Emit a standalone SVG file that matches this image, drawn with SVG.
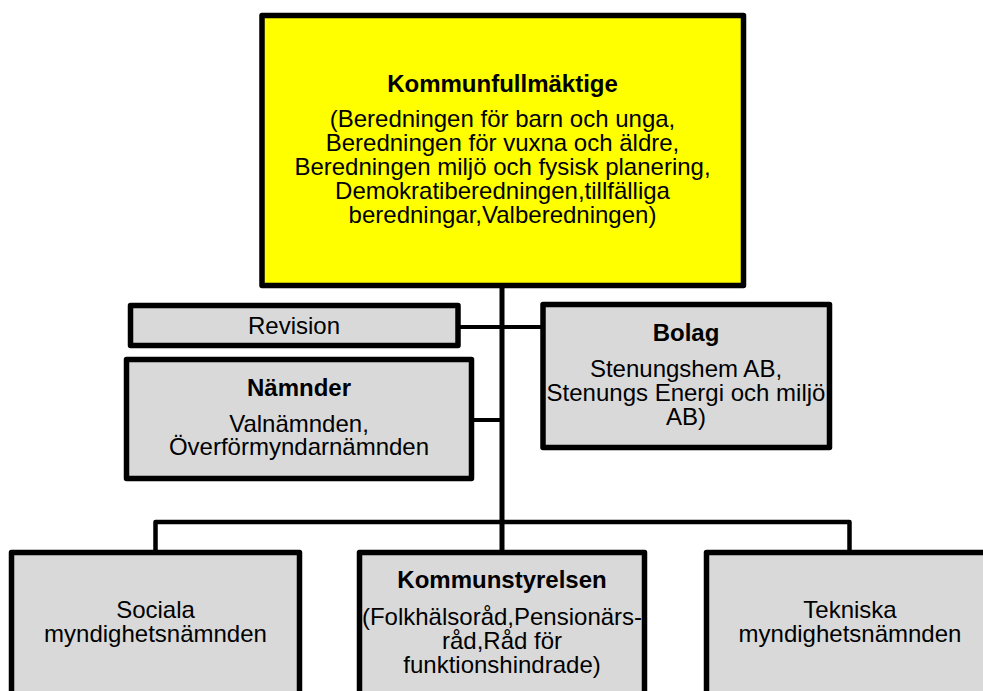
<svg xmlns="http://www.w3.org/2000/svg" width="983" height="691" viewBox="0 0 983 691">
<style>
.box{fill:#d9d9d9;stroke:#000;stroke-width:5.5;stroke-linejoin:round}
.yel{fill:#ffff00;stroke:#000;stroke-width:5.5;stroke-linejoin:round}
.ln{fill:none;stroke:#000;stroke-linejoin:round}
text{font-family:"Liberation Sans",Arial,sans-serif;font-size:24px;fill:#000;text-anchor:middle}
.b{font-weight:bold}
</style>
<rect width="983" height="691" fill="#fff"/>
<g id="connectors">
<line class="ln" x1="502" y1="285" x2="502" y2="553" stroke-width="5"/>
<line class="ln" x1="458" y1="327" x2="543" y2="327" stroke-width="4"/>
<line class="ln" x1="471" y1="420" x2="502" y2="420" stroke-width="4"/>
<polyline class="ln" points="155.5,553 155.5,522 849.5,522 849.5,553" stroke-width="4.5"/>
</g>
<g id="kommunfullmaktige">
<rect class="yel" x="262" y="15.5" width="481.5" height="270"/>
<text class="b" x="502.5" y="92.3">Kommunfullmäktige</text>
<text x="502.5" y="126.5">(Beredningen för barn och unga,</text>
<text x="502.5" y="150.7">Beredningen för vuxna och äldre,</text>
<text x="502.5" y="174.9">Beredningen miljö och fysisk planering,</text>
<text x="502.5" y="199.1">Demokratiberedningen,tillfälliga</text>
<text x="502.5" y="223.3">beredningar,Valberedningen)</text>
</g>
<g id="revision">
<rect class="box" x="130.5" y="305.5" width="327.5" height="40"/>
<text x="294" y="334">Revision</text>
</g>
<g id="namnder">
<rect class="box" x="126.5" y="359.5" width="345" height="119"/>
<text class="b" x="299" y="396">Nämnder</text>
<text x="299" y="431.5">Valnämnden,</text>
<text x="299" y="455">Överförmyndarnämnden</text>
</g>
<g id="bolag">
<rect class="box" x="543" y="304.5" width="286.5" height="143"/>
<text class="b" x="686" y="341">Bolag</text>
<text x="686" y="377">Stenungshem AB,</text>
<text x="686" y="401">Stenungs Energi och miljö</text>
<text x="686" y="425">AB)</text>
</g>
<g id="sociala">
<rect class="box" x="11.5" y="552.5" width="288" height="160"/>
<text x="155.5" y="618">Sociala</text>
<text x="155.5" y="642">myndighetsnämnden</text>
</g>
<g id="kommunstyrelsen">
<rect class="box" x="359.5" y="552.5" width="285" height="160"/>
<text class="b" x="502" y="588">Kommunstyrelsen</text>
<text x="502" y="625">(Folkhälsoråd,Pensionärs-</text>
<text x="502" y="649">råd,Råd för</text>
<text x="502" y="673">funktionshindrade)</text>
</g>
<g id="tekniska">
<rect class="box" x="706.5" y="552.5" width="287" height="160"/>
<text x="850" y="618">Tekniska</text>
<text x="850" y="642">myndighetsnämnden</text>
</g>
</svg>
